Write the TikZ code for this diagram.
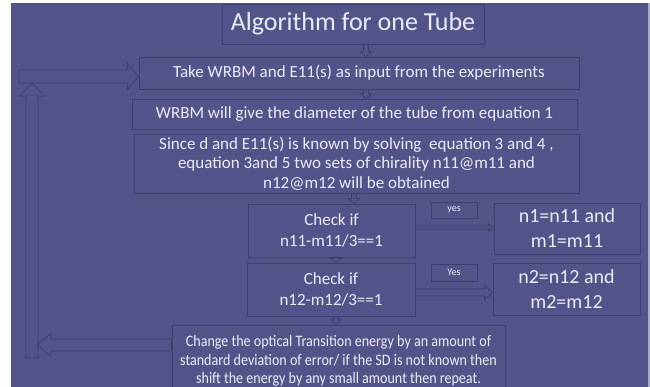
\documentclass[tikz,border=0pt]{standalone}
\usepackage{fontspec}
\setmainfont{Carlito}
\newfontfamily\condfont[FakeStretch=0.88]{Carlito}
\usetikzlibrary{calc}
\definecolor{bgc}{RGB}{82,83,137}
\definecolor{edgec}{RGB}{62,62,112}
\definecolor{txtc}{RGB}{236,236,246}
\definecolor{rimc}{RGB}{170,170,205}
\tikzset{
  box/.style={draw=edgec, line width=0.8pt, rectangle, inner sep=0pt, align=center, text=txtc},
  arr/.style={draw=edgec, line width=0.8pt, line join=miter}
}
% right arrow: #1 start, #2 tip, #3 shaft half, #4 head half, #5 head length
\newcommand\rarr[5]{\draw[arr] let \p1=(#1),\p2=(#2) in (\x1,\y1+#3) -- (\x2-#5,\y1+#3) -- (\x2-#5,\y1+#4) -- (\x2,\y1) -- (\x2-#5,\y1-#4) -- (\x2-#5,\y1-#3) -- (\x1,\y1-#3) -- cycle;}
\newcommand\larr[5]{\draw[arr] let \p1=(#1),\p2=(#2) in (\x1,\y1+#3) -- (\x2+#5,\y1+#3) -- (\x2+#5,\y1+#4) -- (\x2,\y1) -- (\x2+#5,\y1-#4) -- (\x2+#5,\y1-#3) -- (\x1,\y1-#3) -- cycle;}
\newcommand\darr[5]{\draw[arr] let \p1=(#1),\p2=(#2) in (\x1-#3,\y1) -- (\x1-#3,\y2+#5) -- (\x1-#4,\y2+#5) -- (\x1,\y2) -- (\x1+#4,\y2+#5) -- (\x1+#3,\y2+#5) -- (\x1+#3,\y1) -- cycle;}
\newcommand\uarr[5]{\draw[arr] let \p1=(#1),\p2=(#2) in (\x1-#3,\y1) -- (\x1-#3,\y2-#5) -- (\x1-#4,\y2-#5) -- (\x1,\y2) -- (\x1+#4,\y2-#5) -- (\x1+#3,\y2-#5) -- (\x1+#3,\y1) -- cycle;}
\begin{document}
\begin{tikzpicture}[x=1pt,y=-1pt]
\useasboundingbox (0,0) rectangle (650,387);
\fill[white] (0,0) rectangle (650,387);
\fill[bgc] (11,3) rectangle (648,387);
\fill[rimc] (648,3) rectangle (650,387);

\node[box, minimum width=262pt, minimum height=40pt, font=\fontsize{26}{30}\selectfont] (title) at (353,24) {Algorithm for one Tube};
\node[box, minimum width=440pt, minimum height=32pt, font=\fontsize{17}{20}\selectfont] (b2) at (359,73) {Take WRBM and E11(s) as input from the experiments};
\node[box, minimum width=445pt, minimum height=30pt, font=\fontsize{17}{20}\selectfont] (b3) at (354.5,114) {WRBM will give the diameter of the tube from equation 1};
\node[box, minimum width=445pt, minimum height=59pt, font=\fontsize{17}{19.5}\selectfont] (b4) at (356.5,163.5) {Since d and E11(s) is known by solving\ \ equation 3 and 4 ,\\ equation 3and 5 two sets of chirality n11@m11 and\\ n12@m12 will be obtained};
\node[box, minimum width=167pt, minimum height=53pt, font=\fontsize{17}{21}\selectfont] (c1) at (331.5,230.5) {Check if\\ n11-m11/3==1};
\node[box, minimum width=168pt, minimum height=53pt, font=\fontsize{17}{21}\selectfont] (c2) at (331,289.5) {Check if\\ n12-m12/3==1};
\node[box, minimum width=146pt, minimum height=51pt, font=\fontsize{20}{25}\selectfont] (n1) at (567,228.5) {n1=n11 and\\ m1=m11};
\node[box, minimum width=147pt, minimum height=52pt, font=\fontsize{20}{25}\selectfont] (n2) at (566.5,289) {n2=n12 and\\ m2=m12};
\node[box, minimum width=46pt, minimum height=16pt, font=\fontsize{10}{12}\selectfont] (y1) at (454,210) {yes};
\node[box, minimum width=46pt, minimum height=17pt, font=\fontsize{10}{12}\selectfont] (y2) at (454,272.5) {Yes};
\node[box, minimum width=333pt, minimum height=72pt, font=\condfont\fontsize{16}{18.7}\selectfont] (bt) at (338.5,361) {Change the optical Transition energy by an amount of\\ standard deviation of error/ if the SD is not known then\\ shift the energy by any small amount then repeat.};

\coordinate (xa) at (366,0);
\coordinate (xb) at (354,0);
\coordinate (xc) at (336,0);
\coordinate (loopB) at (32,358);
\coordinate (loopT) at (32,83);
\coordinate (topS) at (19,76.5);
\coordinate (loopL) at (38,345);

\darr{title.south -| xa}{b2.north -| xa}{2.5pt}{5.5pt}{5pt}
\darr{b2.south -| xa}{b3.north -| xa}{2.5pt}{5.5pt}{5pt}
\darr{b4.south -| xb}{c1.north -| xb}{2.5pt}{5.5pt}{5pt}
\darr{c1.south -| xc}{c2.north -| xc}{2.5pt}{5.5pt}{4pt}
\darr{c2.south -| xc}{bt.north -| xc}{2.5pt}{5.5pt}{5pt}

\rarr{$(c1.east)+(0,-3)$}{n1.west}{1.5pt}{3.5pt}{5pt}
\rarr{$(c2.east)+(0,3)$}{n2.west}{3.5pt}{7pt}{8pt}

\larr{bt.west |- loopL}{loopL}{6pt}{12pt}{13pt}
\uarr{loopB}{loopT}{6pt}{12.5pt}{13pt}
\rarr{topS}{b2.west |- topS}{6.5pt}{13pt}{11pt}
\end{tikzpicture}
\end{document}
